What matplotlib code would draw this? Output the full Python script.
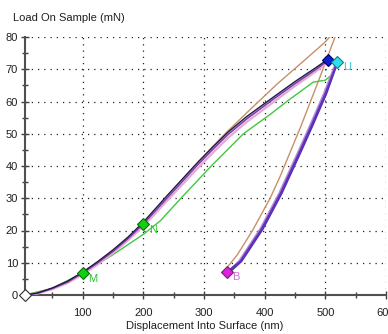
import matplotlib
matplotlib.use("Agg")
import matplotlib.pyplot as plt
from matplotlib.ticker import MultipleLocator

plt.rcParams['font.family'] = ['Liberation Sans', 'DejaVu Sans']

# ---- data ----
# main bundle of loading curves (displacement nm, load mN)
h_load = [5, 25, 50, 75, 100, 125, 150, 175, 200, 239, 288, 315, 340, 370, 413, 450, 485, 505]
p_load_a = [0, 0.5, 2, 4, 6.8, 10, 13.5, 17.5, 22, 30, 40, 45.2, 49.8, 54.5, 60.5, 65.5, 70, 72.8]
p_load_b = [0, 0.6, 2.2, 4.3, 7.1, 10.4, 14.0, 18.0, 22.6, 30.8, 40.8, 46.0, 50.6, 55.3, 61.2, 66.2, 70.6, 73.2]
p_load_c = [0, 0.4, 1.8, 3.7, 6.4, 9.5, 13.0, 17.0, 21.3, 29.2, 39.0, 44.2, 48.8, 53.6, 59.6, 64.8, 69.4, 72.4]
p_load_d = [0, 0.5, 2.1, 4.1, 6.9, 10.2, 13.8, 17.8, 22.3, 30.4, 40.4, 45.6, 50.2, 54.9, 60.9, 65.9, 70.3, 73.0]

# hold segment to the unloading start
h_hold = [505, 520]
p_hold = [72.8, 72.4]

# main bundle of unloading curves
h_unl_a = [520, 500, 478, 459, 426, 395, 360, 338]
p_unl_a = [72.4, 62.5, 53, 45, 31.5, 20.5, 10.5, 7.2]
h_unl_b = [521, 502, 480, 461, 428, 397, 362, 342]
p_unl_b = [72.6, 62.6, 53, 45, 31.5, 20.5, 10.5, 7.2]
h_unl_c = [518, 498, 476, 457, 424, 393, 358, 340]
p_unl_c = [72.2, 62.5, 53, 45, 31.5, 20.5, 10.5, 7.2]

# green test
h_green = [5, 50, 100, 150, 200, 228, 262, 312, 365, 409, 440, 480, 500, 512, 520]
p_green = [0, 2, 6.8, 12.5, 18.8, 23, 30, 40, 50, 56, 60.5, 66, 66.6, 68.5, 72.2]
h_green_u = [520, 501, 479, 460, 427, 396, 361, 344]
p_green_u = [72.2, 62.3, 52.8, 44.8, 31.3, 20.3, 10.3, 7.2]

# brown test
h_brown = [5, 50, 100, 150, 200, 239, 288, 332, 376, 421, 470, 500, 512, 520]
p_brown = [0, 2, 6.8, 13.6, 22.2, 30.5, 40.8, 49.5, 57.5, 65.5, 73.5, 78.5, 81, 81]
h_brown_u = [520, 516, 490, 459, 426, 409, 380, 355, 338]
p_brown_u = [81, 80, 67, 52, 37, 30, 20, 12.5, 8.5]

# segment markers
mark_x = [5, 100, 200, 505, 520, 338]
mark_y = [0, 6.8, 22, 72.8, 72.4, 7.2]
mark_face = ['white', '#10d010', '#10d010', '#1020c8', '#30e0e8', '#e020e0']
mark_edge = ['#303030', '#087008', '#087008', '#000060', '#108090', '#702070']
mark_text = ['', 'M', 'N', '', 'U', 'B']
text_color = ['k', '#30c030', '#30c030', 'k', '#40c0e0', '#d070d0']

# ---- figure ----
fig = plt.figure(figsize=(3.88, 3.34), dpi=100)
ax = fig.add_axes([25 / 388, 39 / 334, 361 / 388, 258 / 334])
ax.set_xlim(5, 600)
ax.set_ylim(0, 80)

# grid
ax.xaxis.set_major_locator(MultipleLocator(100))
ax.xaxis.set_minor_locator(MultipleLocator(50))
ax.yaxis.set_major_locator(MultipleLocator(10))
ax.yaxis.set_minor_locator(MultipleLocator(5))
ax.grid(True, which='major', color='#202020', linestyle=(0, (1, 4)), linewidth=0.9)

# curves
ax.plot(h_brown, p_brown, color='#c89068', lw=1.0, zorder=3)
ax.plot(h_brown_u, p_brown_u, color='#c89068', lw=1.0, zorder=3)
ax.plot(h_green, p_green, color='#40c840', lw=1.0, zorder=3)
ax.plot(h_green_u, p_green_u, color='#40c840', lw=1.0, zorder=3)

ax.plot(h_load, p_load_c, color='#e6a8d8', lw=1.6, zorder=4)
ax.plot(h_load, p_load_d, color='#b090e0', lw=1.2, zorder=4)
ax.plot(h_load, p_load_a, color='#7a3aa0', lw=1.0, zorder=5)
ax.plot(h_load, p_load_b, color='#1a1a3a', lw=0.9, zorder=5)
ax.plot(h_hold, p_hold, color='#7a3aa0', lw=1.0, zorder=5)

ax.plot(h_unl_c, p_unl_c, color='#b090e0', lw=1.6, zorder=4)
ax.plot(h_unl_b, p_unl_b, color='#5030c8', lw=1.4, zorder=5)
ax.plot(h_unl_a, p_unl_a, color='#6a30b0', lw=1.2, zorder=5)

for x, y, fc, ec, t, tc in zip(mark_x, mark_y, mark_face, mark_edge, mark_text, text_color):
    ax.plot([x], [y], marker='D', ms=6, mfc=fc, mec=ec, mew=0.8, ls='none',
            zorder=7, clip_on=False)
    if t:
        ax.annotate(t, (x, y), xytext=(4, -4), textcoords='offset points',
                    color=tc, fontsize=8, ha='left', va='center', zorder=8)

# spines / ticks
for s in ['top', 'right']:
    ax.spines[s].set_visible(False)
for s in ['left', 'bottom']:
    ax.spines[s].set_color('#505050')
    ax.spines[s].set_linewidth(1.5)
ax.tick_params(which='both', direction='inout', color='#404040', width=1.0,
               labelsize=8, labelcolor='#202020')
ax.tick_params(which='major', length=6)
ax.tick_params(which='minor', length=5)
ax.tick_params(axis='x', pad=6)
ax.tick_params(axis='y', pad=2)
ax.set_xticks([100, 200, 300, 400, 500, 600])
ax.set_yticks([0, 10, 20, 30, 40, 50, 60, 70, 80])

fig.text(13 / 388, 1 - 18 / 334, 'Load On Sample (mN)', fontsize=8,
         ha='left', va='center', color='#202020')
fig.text(205 / 388, 1 - 326 / 334, 'Displacement Into Surface (nm)', fontsize=8,
         ha='center', va='center', color='#202020')

fig.savefig('out.png', dpi=100)
